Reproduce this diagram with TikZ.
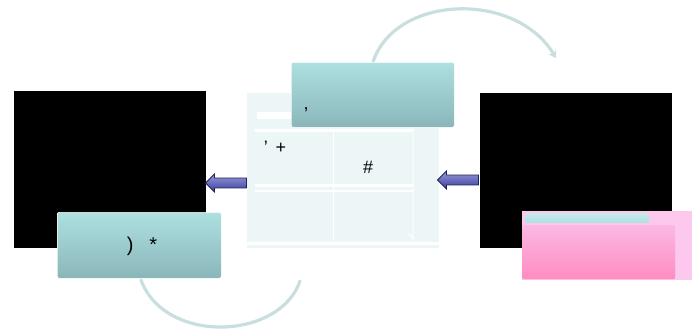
\documentclass[tikz,border=0pt]{standalone}
\usepackage{fontspec}
\setmainfont{Liberation Sans}
\usetikzlibrary{shapes.arrows,arrows.meta}
\definecolor{tealtop}{HTML}{AEE0E0}
\definecolor{tealbot}{HTML}{8AB6BA}
\definecolor{panel}{HTML}{EDF6F7}
\definecolor{arrowfill}{HTML}{4448B8}
\definecolor{arrowline}{HTML}{1E205A}
\definecolor{pinktop}{HTML}{FBB8E4}
\definecolor{pinkbot}{HTML}{FF8CC0}
\definecolor{pinkside}{HTML}{FCC8EE}
\definecolor{arcline}{HTML}{C9DEDF}
\begin{document}
\begin{tikzpicture}[x=1pt,y=-1pt,
  tealbox/.style={draw=white,line width=0.6pt,rounded corners=2pt,top color=tealtop,bottom color=tealbot,inner sep=0pt,anchor=north west},
  blackbox/.style={fill=black,inner sep=0pt,anchor=north west},
  blockarrow/.style={single arrow,shape border rotate=180,draw=arrowline,line width=0.8pt,top color=arrowfill!55!white,bottom color=arrowfill!85!black,minimum height=41pt,minimum width=18pt,single arrow head extend=4pt,inner xsep=0pt,inner ysep=4.5pt},
  txt/.style={font=\fontsize{18}{21}\selectfont,inner sep=0pt},
  arc/.style={draw=arcline,line width=3.2pt,line cap=round}
]
\useasboundingbox (0,0) rectangle (692,333);
% arcs
\coordinate (a1) at (373,62);
\coordinate (a2) at (556,58);
\draw[arc,-{Stealth[length=7pt,width=9pt]}] (a1) .. controls (395,-5) and (515,-10) .. (a2);
\coordinate (b1) at (141,280);
\coordinate (b2) at (300,281);
\draw[arc] (b1) .. controls (165,345) and (280,340) .. (b2);
% black boxes
\node[blackbox,minimum width=192pt,minimum height=157pt] (lblack) at (14,91) {};
\node[blackbox,minimum width=192pt,minimum height=155pt] (rblack) at (480,93) {};
% central panel
\node[fill=panel,inner sep=0pt,anchor=north west,minimum width=192pt,minimum height=155pt] (panel) at (247,93) {};
\fill[white] (257,112) rectangle (413,119);
\fill[white] (255,129) rectangle (413,132);
\fill[white] (255,184) rectangle (413,187);
\fill[white] (255,190) rectangle (413,192);
\fill[white] (247,242) rectangle (439,245);
\draw[white,line width=0.8pt] (333,132) -- (333,240);
\draw[white!85!panel,line width=1pt] (413,100) -- (413,240) arc (180:90:-6);
% top teal box
\node[tealbox,minimum width=163pt,minimum height=65pt] (topbox) at (291,62) {};
\node[txt] (t1) at (306,110) {,};
% text in panel
\node[txt] (t2) at (275,147) {'\hspace{8pt}+};
\node[txt] (t3) at (368,167) {\#};
% left teal box
\node[tealbox,minimum width=164pt,minimum height=66pt] (lbox) at (57,212) {};
\node[txt,font=\fontsize{20}{24}\selectfont] (t4) at (142,246) {)\hspace{16pt}*};
% pink box
\node[fill=pinkside,inner sep=0pt,anchor=north west,minimum width=170pt,minimum height=69pt] (pinkbg) at (522,211) {};
\node[rounded corners=2pt,top color=pinktop,bottom color=pinkbot,inner sep=0pt,anchor=north west,minimum width=153pt,minimum height=54pt] (pinkbox) at (522,225) {};
\node[rounded corners=1.5pt,top color=tealtop!70!white,bottom color=tealtop,inner sep=0pt,anchor=north west,minimum width=124pt,minimum height=10pt] (pinkstrip) at (525,213) {};
% arrows
\node[blockarrow] (larrow) at (228.5,183) {};
\node[blockarrow] (rarrow) at (460.5,180) {};
\end{tikzpicture}
\end{document}
